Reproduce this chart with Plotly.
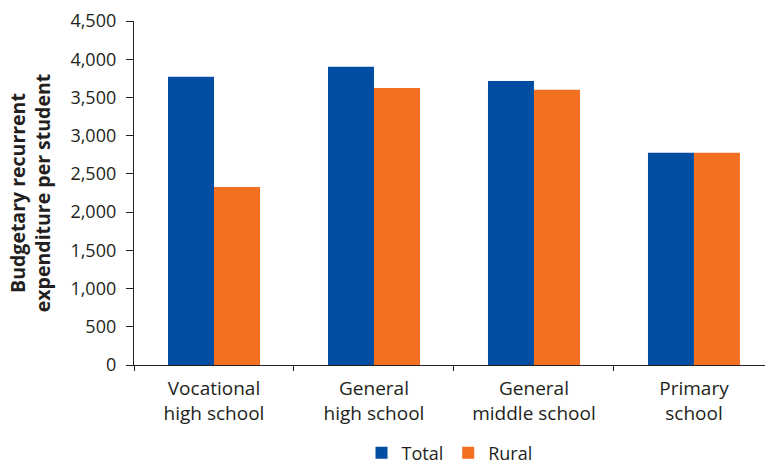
import plotly.graph_objects as go

categories = ["Vocational<br>high school", "General<br>high school",
              "General<br>middle school", "Primary<br>school"]
total = [3770, 3900, 3715, 2775]
rural = [2330, 3625, 3600, 2775]
y_ticks = [0, 500, 1000, 1500, 2000, 2500, 3000, 3500, 4000, 4500]
y_tick_labels = ["0", "500", "1,000", "1,500", "2,000", "2,500",
                 "3,000", "3,500", "4,000", "4,500"]

BLUE = "#034EA2"
ORANGE = "#F37021"
TEXT = "#231F20"
FONT = "Open Sans"

fig = go.Figure()
fig.add_trace(go.Bar(name="Total", x=categories, y=total,
                     marker=dict(color=BLUE, line=dict(width=0))))
fig.add_trace(go.Bar(name="Rural", x=categories, y=rural,
                     marker=dict(color=ORANGE, line=dict(width=0))))

fig.update_layout(
    width=765, height=467,
    margin=dict(l=134, r=0, t=21, b=102, autoexpand=False),
    paper_bgcolor="white", plot_bgcolor="white",
    barmode="group", bargap=0.425, bargroupgap=0,
    font=dict(family=FONT, size=18, color=TEXT),
    showlegend=True,
    legend=dict(orientation="h", x=0.5, xanchor="center",
                yref="container", y=0.03, yanchor="middle",
                font=dict(size=18, color=TEXT),
                itemsizing="constant", traceorder="normal"),
)

fig.update_xaxes(
    range=[-0.5, 3.444],
    showline=True, linecolor="#231F20", linewidth=1.3,
    ticks="outside", tickson="boundaries", ticklen=5, tickcolor="#231F20",
    tickwidth=1.3, showgrid=False, zeroline=False,
    ticklabelstandoff=6,
    tickfont=dict(family=FONT, size=19, color=TEXT),
)
fig.update_yaxes(
    range=[0, 4500], tickvals=y_ticks, ticktext=y_tick_labels,
    showline=True, linecolor="#231F20", linewidth=1.3,
    ticks="outside", ticklen=7, tickcolor="#231F20", tickwidth=1.3,
    ticklabelstandoff=6,
    showgrid=False, zeroline=False,
    tickfont=dict(family=FONT, size=18, color=TEXT),
    title=dict(text="<b>Budgetary recurrent<br>expenditure per student</b>",
               font=dict(family=FONT, size=19.5, color=TEXT), standoff=14),
)

fig.write_html("out.html")
